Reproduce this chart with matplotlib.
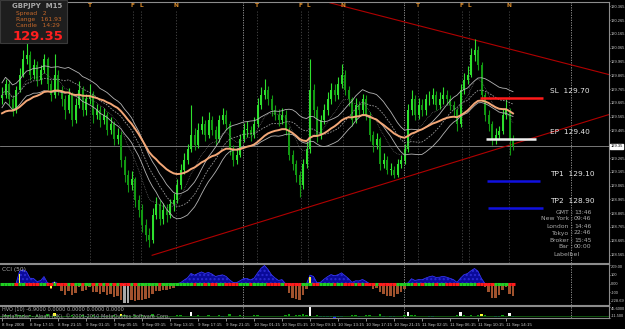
import numpy as np
import pandas as pd
import matplotlib.pyplot as plt

# GBPJPY, 30-min steps
OPEN0 = 129.70
close = [129.72, 129.80, 129.69, 129.61, 129.76, 129.87, 129.98, 130.01, 129.87, 129.94,
         129.83, 129.90, 129.98, 129.80, 129.72, 129.87, 129.76, 129.69, 129.61, 129.72,
         129.54, 129.65, 129.76, 129.61, 129.69, 129.72, 129.58, 129.61, 129.54, 129.58,
         129.47, 129.51, 129.40, 129.43, 129.25, 129.14, 129.07, 129.11, 128.96, 128.89,
         128.78, 128.71, 128.67, 128.85, 128.93, 128.82, 128.89, 128.85, 128.93, 128.96,
         129.07, 129.18, 129.25, 129.33, 129.43, 129.36, 129.47, 129.51, 129.43, 129.54,
         129.47, 129.40, 129.54, 129.58, 129.51, 129.33, 129.25, 129.29, 129.40, 129.47,
         129.47, 129.43, 129.51, 129.65, 129.72, 129.76, 129.69, 129.61, 129.58, 129.54,
         129.58, 129.47, 129.29, 129.22, 129.14, 129.07, 129.22, 129.33, 129.76, 129.61,
         129.43, 129.54, 129.61, 129.69, 129.76, 129.72, 129.80, 129.87, 129.76, 129.69,
         129.54, 129.65, 129.61, 129.69, 129.58, 129.43, 129.36, 129.40, 129.22, 129.25,
         129.18, 129.18, 129.14, 129.22, 129.25, 129.33, 129.61, 129.69, 129.58, 129.65,
         129.61, 129.69, 129.69, 129.72, 129.65, 129.69, 129.72, 129.69, 129.65, 129.61,
         129.51, 129.76, 129.83, 129.87, 130.01, 130.05, 129.94, 129.72, 129.58, 129.51,
         129.40, 129.43, 129.46, 129.58, 129.61, 129.40, 129.35]
high = [129.78, 129.84, 129.83, 129.72, 129.79, 129.92, 130.05, 130.10, 130.04, 129.98,
        129.97, 129.94, 130.02, 130.00, 129.83, 130.02, 129.90, 129.79, 129.72, 129.77,
        129.74, 129.70, 129.82, 129.79, 129.73, 129.80, 129.75, 129.66, 129.64, 129.63,
        129.60, 129.56, 129.53, 129.48, 129.46, 129.28, 129.18, 129.17, 129.13, 129.00,
        128.93, 128.82, 128.76, 128.90, 128.98, 128.96, 128.94, 128.93, 128.97, 129.01,
        129.11, 129.22, 129.30, 129.37, 129.65, 129.48, 129.52, 129.57, 129.54, 129.60,
        129.57, 129.50, 129.58, 129.63, 129.61, 129.53, 129.36, 129.34, 129.44, 129.52,
        129.53, 129.50, 129.56, 129.70, 129.78, 129.84, 129.79, 129.72, 129.65, 129.62,
        129.63, 129.61, 129.49, 129.32, 129.25, 129.17, 129.26, 129.38, 129.98, 129.80,
        129.64, 129.58, 129.66, 129.74, 129.81, 129.80, 129.85, 129.95, 129.90, 129.79,
        129.71, 129.70, 129.68, 129.73, 129.72, 129.60, 129.46, 129.45, 129.42, 129.30,
        129.28, 129.23, 129.21, 129.26, 129.29, 129.37, 129.66, 129.76, 129.72, 129.70,
        129.69, 129.73, 129.75, 129.77, 129.75, 129.74, 129.78, 129.76, 129.72, 129.68,
        129.63, 129.80, 129.88, 129.93, 130.06, 130.13, 130.08, 129.96, 129.74, 129.61,
        129.53, 129.48, 129.50, 129.62, 129.69, 129.63, 129.43]
low = [129.66, 129.70, 129.65, 129.57, 129.59, 129.74, 129.85, 129.95, 129.83, 129.84,
       129.79, 129.80, 129.88, 129.76, 129.68, 129.70, 129.72, 129.64, 129.55, 129.59,
       129.50, 129.52, 129.63, 129.57, 129.58, 129.66, 129.52, 129.55, 129.49, 129.51,
       129.43, 129.44, 129.36, 129.37, 129.20, 129.09, 129.02, 129.03, 128.91, 128.84,
       128.73, 128.66, 128.62, 128.65, 128.82, 128.78, 128.79, 128.80, 128.83, 128.88,
       128.94, 129.04, 129.15, 129.22, 129.31, 129.32, 129.34, 129.44, 129.39, 129.41,
       129.43, 129.36, 129.38, 129.51, 129.47, 129.29, 129.21, 129.22, 129.27, 129.38,
       129.42, 129.39, 129.41, 129.49, 129.62, 129.69, 129.65, 129.57, 129.54, 129.50,
       129.51, 129.43, 129.25, 129.18, 129.09, 128.98, 129.04, 129.19, 129.30, 129.56,
       129.38, 129.40, 129.51, 129.58, 129.66, 129.68, 129.69, 129.77, 129.72, 129.64,
       129.50, 129.52, 129.57, 129.58, 129.54, 129.39, 129.31, 129.33, 129.18, 129.19,
       129.15, 129.14, 129.12, 129.13, 129.19, 129.22, 129.31, 129.58, 129.54, 129.55,
       129.57, 129.58, 129.65, 129.66, 129.61, 129.62, 129.66, 129.65, 129.61, 129.57,
       129.46, 129.49, 129.73, 129.80, 129.85, 129.97, 129.90, 129.68, 129.53, 129.46,
       129.36, 129.37, 129.40, 129.44, 129.55, 129.29, 129.32]

time_labels = ["8 Sep 2008", "8 Sep 17:15", "8 Sep 21:15", "9 Sep 01:15", "9 Sep 05:15",
               "9 Sep 09:15", "9 Sep 13:15", "9 Sep 17:15", "9 Sep 21:15", "10 Sep 01:15",
               "10 Sep 05:15", "10 Sep 09:15", "10 Sep 13:15", "10 Sep 17:15", "10 Sep 21:15",
               "11 Sep 02:15", "11 Sep 06:15", "11 Sep 10:15", "11 Sep 14:15"]

levels = [129.70, 129.40, 129.10, 128.90]
level_names = ["SL", "EP", "TP1", "TP2"]
level_colors = ["#ff1a1a", "#f0f0f0", "#1010e0", "#1010e0"]

# slow MA value at the left edge (history before the window)
EMA_SEED = 129.58

# trendline anchors (bar index, price)
upper_trend = [(93.7, 130.39), (173.4, 129.87)]
lower_trend = [(42.9, 128.56), (173.4, 129.58)]

news_bars = [25.1, 37.4, 39.7, 49.7, 72.9, 85.4, 87.4, 97.4, 118.9, 131.4, 133.4, 144.9]
news_tags = ["T", "F", "L", "N", "T", "F", "L", "N", "T", "F", "L", "N"]
day_bars = [68.9, 114.9, 162.6]

info_keys = ["GMT", "New York", "London", "Tokyo", "Broker", "Bar"]
info_vals = ["13:46", "09:46", "14:46", "22:46", "15:45", "00:00"]

bid = close[-1]

# ---------------------------------------------------------------
SMALL = ["Liberation Sans", "DejaVu Sans"]
n = len(close)
x = np.arange(n)
c = np.array(close)
h = np.array(high)
l = np.array(low)
o = np.array([OPEN0] + close[:-1])

W, H = 625, 329
fig = plt.figure(figsize=(W / 100, H / 100), dpi=100, facecolor="black")


def fx(px):
    return px / W


def fy(py):
    return 1 - py / H


XL = (-2 / 3.5, 607 / 3.5)
ax = fig.add_axes([0, fy(263), fx(609), (263 - 2) / H], facecolor="black")
ax_cci = fig.add_axes([0, fy(305), fx(609), (305 - 264) / H], facecolor="black")
ax_hvo = fig.add_axes([0, fy(318), fx(609), (318 - 306) / H], facecolor="black")

for a in (ax, ax_cci, ax_hvo):
    a.set_xlim(*XL)
    for s in a.spines.values():
        s.set_color("#8c8c8c")
        s.set_linewidth(0.8)
    a.spines["left"].set_visible(False)
    a.yaxis.tick_right()
    a.tick_params(axis="y", colors="#c8c8c8", labelsize=2.9, length=1, pad=0.4, width=0.5)
    a.tick_params(axis="x", bottom=False, labelbottom=False)
    for d in day_bars:
        a.axvline(d, color="#a0a0a0", lw=0.6, ls=(0, (1.5, 1.5)), zorder=1)

# ---- main panel ----
ax.set_ylim(128.504, 130.396)
for nb in news_bars:
    ax.axvline(nb, ymin=0, ymax=0.965, color="#4a4a4a", lw=0.6, ls=(0, (1.5, 2)), zorder=1)

for nb, tag in zip(news_bars, news_tags):
    ax.text(nb, 130.37, tag, color="#d88a2a", fontsize=4.2, fontweight="bold",
            ha="center", va="center", zorder=6)

ax.axhline(bid, color="#8a8a8a", lw=0.6, zorder=1)

for p0, p1 in (upper_trend, lower_trend):
    ax.plot([p0[0], p1[0]], [p0[1], p1[1]], color="#b00000", lw=0.8, zorder=2)

up = c >= o
col = np.where(up, "#2ee02e", "#129a12")
ax.vlines(x, l, h, colors=col, lw=0.8, zorder=3)
body = np.maximum(np.abs(c - o), 0.006)
ax.bar(x, body, bottom=np.minimum(o, c), width=0.55, color=col, lw=0, zorder=3)

cs = pd.Series(c)
ema_slow = pd.Series([EMA_SEED] + close).ewm(span=30, adjust=False).mean().values[1:]
mid = cs.rolling(16, min_periods=1).mean()
mid2 = cs.ewm(span=10, adjust=False).mean()
ax.plot(x, mid + 0.09, color="#b4b4b4", lw=0.6, zorder=4)
ax.plot(x, mid - 0.09, color="#b4b4b4", lw=0.6, zorder=4)
ax.plot(x, mid, color="#9a9a9a", lw=0.6, ls=(0, (2, 1.5)), zorder=4)
ax.plot(x, mid2, color="#7a7a7a", lw=0.5, ls=(0, (1, 1.5)), zorder=4)
ax.plot(x, ema_slow, color="#f4a878", lw=1.4, zorder=5)

lvl_spans = [(136.6, 154.6), (138.3, 152.6), (138.6, 153.7), (138.9, 154.6)]
for lv, nm, cl, (a0, a1) in zip(levels, level_names, level_colors, lvl_spans):
    ax.hlines(lv, a0, a1, color=cl, lw=1.8, zorder=6)
    ax.text(156.6, lv + 0.05, f"{nm}  {lv:.2f}", color="#e8e8e8", fontsize=5.3,
            va="center", ha="left", zorder=6)

# the bid box hides the price label nearest to it
yt = np.round(np.arange(128.565, 130.40, 0.1), 3)
yt = yt[np.abs(yt - bid) > 0.03]
ax.set_yticks(yt)
ax.set_yticklabels([f"{v:.3f}" for v in yt], family=SMALL)
ax.text(1.002, bid, f"{bid:.2f}", transform=ax.get_yaxis_transform(), fontsize=2.9,
        family=SMALL, color="black", va="center", ha="left",
        bbox=dict(facecolor="white", edgecolor="white", pad=0.3), zorder=7)

# ---- CCI ----
tp = (pd.Series(h) + pd.Series(l) + cs) / 3
sma = tp.rolling(25, min_periods=5).mean()
mad = tp.rolling(25, min_periods=5).apply(lambda v: np.mean(np.abs(v - v.mean())), raw=True)
cci = ((tp - sma) / (0.015 * mad)).fillna(0).values

pos = np.where(cci > 0, cci, 0)
ax_cci.fill_between(x, 0, pos, color="#0a0a9a", lw=0, zorder=2, hatch="....", edgecolor="#2a2ad0")
ax_cci.plot(x, pos, color="#3a3aff", lw=0.5, zorder=3)
neg = cci < 0
ext = np.abs(cci) > 210
ax_cci.bar(x[neg & ~ext], cci[neg & ~ext], width=0.8, color="#a0522d", lw=0, zorder=2)
ax_cci.bar(x[ext], cci[ext], width=0.8, color="#a8a8a8", lw=0, zorder=2)
cross = np.where(np.sign(cci[1:]) != np.sign(cci[:-1]))[0] + 1
ax_cci.bar(x[cross], cci[cross] * 0.8, width=0.5, color="#ffff30", lw=0, zorder=3)
slope = np.diff(np.r_[cci[0], cci])
zc = np.where(slope >= 0, "#20d020", "#ff1a1a")
ax_cci.hlines(np.zeros(n), x - 0.5, x + 0.5, colors=zc, lw=2.2, zorder=4)
lo_c, hi_c = cci.min(), cci.max()
ax_cci.set_ylim(lo_c * 1.08, hi_c * 1.08)
cticks = [hi_c] + [v for v in (100, 0, -100, -200) if lo_c + 45 < v < hi_c - 45] + [lo_c]
ax_cci.set_yticks(cticks)
ax_cci.set_yticklabels([f"{hi_c:.2f}"] + [("0.00" if v == 0 else f"{v}") for v in cticks[1:-1]]
                       + [f"{lo_c:.2f}"], family=SMALL)
cl_lbls = ax_cci.get_yticklabels()
cl_lbls[0].set_va("top")
cl_lbls[-1].set_va("bottom")
ax_cci.text(0.004, 0.86, "CCI (50)", transform=ax_cci.transAxes, color="#b0b0b0",
            fontsize=4.2, va="center")

# ---- HVO ----
rng = pd.Series(h - l)
hvo = (rng - rng.rolling(10, min_periods=1).mean()).values * 100
hc = np.where(hvo > 0, "#10a010", "#1a1aff")
hc = np.where(hvo > 9, "#ffff30", hc)
hc = np.where(hvo > 14, "#ffffff", hc)
ax_hvo.bar(x, hvo, width=0.8, color=hc, lw=0, zorder=2)
ax_hvo.axhline(0, color="#106010", lw=0.6)
ax_hvo.set_ylim(hvo.min() * 1.1, hvo.max() * 1.1)
ax_hvo.set_yticks([hvo.max(), hvo.min()])
ax_hvo.set_yticklabels([f"{hvo.max():.4f}", f"{hvo.min():.3f}"], family=SMALL)
hv_lbls = ax_hvo.get_yticklabels()
hv_lbls[0].set_va("top")
hv_lbls[-1].set_va("bottom")
ax_hvo.text(0.004, 0.72, f"HVO (10) {hvo[-1]:.4f} 0.0000 0.0000 0.0000 0.0000",
            transform=ax_hvo.transAxes, color="#b0b0b0", fontsize=3.6, va="center")
ax_hvo.text(0.004, 0.12, "MetaTrader - Alpari (UK), © 2001-2010 MetaQuotes Software Corp.",
            transform=ax_hvo.transAxes, color="#a0a0a0", fontsize=3.6, va="center")

ax_hvo.set_xticks(np.arange(0, 8 * len(time_labels), 8))
ax_hvo.set_xticklabels(time_labels, family=SMALL)
ax_hvo.tick_params(axis="x", bottom=True, labelbottom=True, colors="#c8c8c8",
                   labelsize=3.2, length=2, pad=1.5, width=0.5)
for t in ax_hvo.get_xticklabels():
    t.set_ha("left")

# ---- overlays in pixel space ----
fig.patches.append(plt.Rectangle((0, fy(43)), fx(67), 43 / H, transform=fig.transFigure,
                                 facecolor="#1e1e1e", edgecolor="#3a3a3a", lw=0.8, zorder=10))
fig.text(fx(12), fy(6), "GBPJPY  M15", color="#a8a8a8", fontsize=5, fontweight="bold",
         va="center", zorder=11)
for i, (k, v) in enumerate([("Spread", "2"), ("Range", "161.93"), ("Candle", "14:29")]):
    fig.text(fx(16), fy(13 + 6.3 * i), f"{k}   {v}", color="#c8692a", fontsize=4.3,
             va="center", zorder=11)
fig.text(fx(13), fy(36), f"{bid:.2f}", color="#ff1f1f", fontsize=9.5, fontweight="bold",
         va="center", zorder=11)

for i, (k, v) in enumerate(zip(info_keys, info_vals)):
    yy = fy(212 + 7 * i)
    fig.text(fx(569), yy, k, color="#a8a8a8", fontsize=4.4, ha="right", va="center")
    fig.text(fx(571), yy, ":", color="#a8a8a8", fontsize=4.4, ha="center", va="center")
    fig.text(fx(574), yy, v, color="#a8a8a8", fontsize=4.4, ha="left", va="center")
fig.text(fx(566), fy(254), "Labelbel", color="#a8a8a8", fontsize=4.4, ha="center", va="center")

fig.savefig("out.png", dpi=100, facecolor="black")
